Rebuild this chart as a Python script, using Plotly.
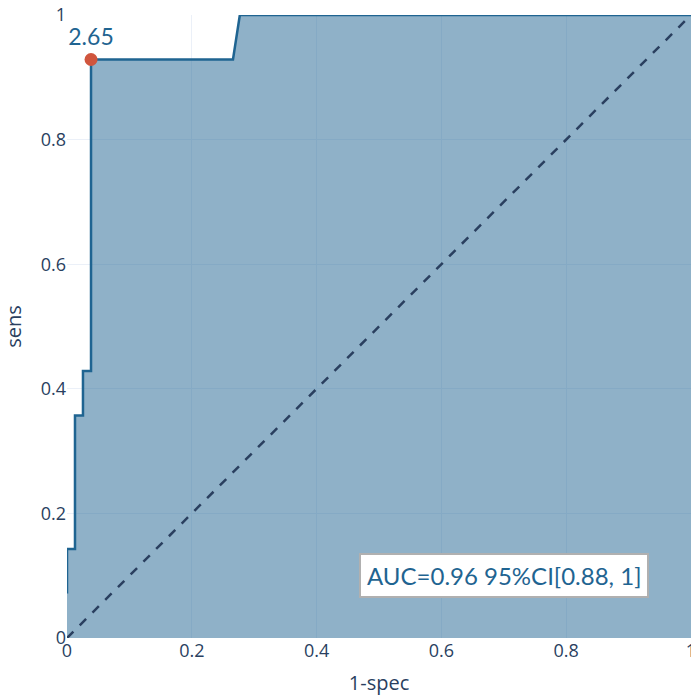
import plotly.graph_objects as go

# ROC curve data (1-spec, sens)
fpr = [0.0, 0.0, 0.0128, 0.0128, 0.0256, 0.0256, 0.0385, 0.0385, 0.266, 0.277, 1.0]
tpr = [0.0714, 0.1429, 0.1429, 0.3571, 0.3571, 0.4286, 0.4286, 0.9286, 0.9286, 1.0, 1.0]

best_x = [0.0385]
best_y = [0.9286]
best_label = ["2.65"]

diag = [0, 1]
auc_text = "AUC=0.96 95%CI[0.88, 1]"
xticks = [0, 0.2, 0.4, 0.6, 0.8, 1]
yticks = [0, 0.2, 0.4, 0.6, 0.8, 1]

line_col = "rgb(31,100,145)"
fill_col = "rgba(31,100,145,0.5)"

fig = go.Figure()
fig.add_trace(go.Scatter(x=fpr, y=tpr, mode="lines", fill="tozeroy",
                         line=dict(color=line_col, width=2.5), fillcolor=fill_col,
                         showlegend=False))
fig.add_trace(go.Scatter(x=diag, y=diag, mode="lines",
                         line=dict(color="#2a3f5f", width=2.5, dash="dash"),
                         showlegend=False))
fig.add_trace(go.Scatter(x=best_x, y=best_y, mode="markers+text", text=best_label,
                         textposition="top center",
                         textfont=dict(family="Lato", size=23, color=line_col),
                         marker=dict(color="#d0553d", size=13),
                         showlegend=False))

fig.add_annotation(x=0.70, y=0.101, xref="x", yref="y", text=auc_text, showarrow=False,
                   font=dict(family="Lato", size=24, color=line_col),
                   bgcolor="white", bordercolor="#b0b0b0", borderwidth=2, borderpad=6)

fig.update_layout(
    template="plotly_white",
    width=691, height=697,
    margin=dict(l=67, r=0, t=15, b=59),
    font=dict(family="Open Sans", color="#2a3f5f"),
)
fig.update_xaxes(range=[0, 1], tickvals=xticks, ticktext=[str(v) for v in xticks],
                 ticklabeloverflow="allow", automargin=False,
                 tickfont=dict(size=18), title=dict(text="1-spec", font=dict(size=20), standoff=14),
                 zeroline=False, showline=False)
fig.update_yaxes(range=[0, 1], tickvals=yticks, ticktext=[str(v) for v in yticks],
                 automargin=False,
                 tickfont=dict(size=18), title=dict(text="sens", font=dict(size=20)),
                 zeroline=False, showline=False)

fig.write_html("out.html")
